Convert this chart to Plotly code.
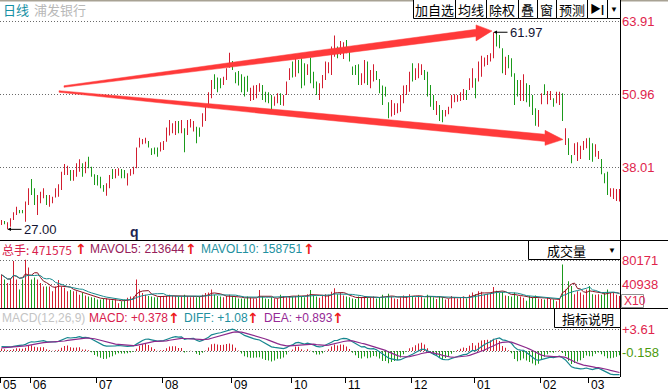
import plotly.graph_objects as go

W, H = 668, 392

# ---------------- data ----------------
high = [28.66, 28.48, 28.25, 28.96, 30.02, 31.03, 30.44, 30.44, 31.92, 34.28,
        35.94, 34.28, 33.10, 33.69, 34.28, 33.10, 33.10, 32.80, 34.28, 34.99,
        37.24, 38.60, 38.30, 37.53, 37.53, 38.72, 39.43, 38.72, 39.01, 39.90,
        38.12, 36.77, 36.65, 36.35, 34.87, 35.17, 36.65, 37.71, 37.71, 37.83,
        37.71, 37.53, 36.94, 37.71, 38.12, 41.50, 43.27, 43.04, 43.27, 42.68,
        41.38, 41.50, 41.50, 42.44, 42.68, 45.05, 46.41, 45.81, 46.23, 46.23,
        46.41, 44.93, 46.41, 46.58, 46.23, 45.22, 45.05, 47.59, 49.07, 51.31,
        53.50, 54.51, 53.92, 53.80, 54.09, 55.57, 58.35, 56.87, 54.86, 55.10,
        54.51, 54.09, 54.27, 52.14, 52.50, 52.62, 52.91, 52.62, 51.43, 51.31,
        50.84, 50.55, 51.14, 51.14, 50.84, 53.21, 55.57, 56.76, 57.35, 57.05,
        57.35, 56.46, 56.28, 57.47, 54.98, 53.21, 52.91, 54.39, 56.76, 56.64,
        59.42, 61.37, 59.42, 60.42, 60.19, 60.60, 59.12, 55.87, 56.16, 56.28,
        54.69, 57.05, 56.76, 55.28, 56.28, 55.10, 53.68, 52.50, 52.32, 49.54,
        49.95, 49.36, 49.36, 50.84, 52.50, 52.62, 54.98, 56.46, 55.57, 56.46,
        56.28, 55.28, 54.98, 52.62, 50.84, 49.78, 49.07, 48.18, 48.18, 48.77,
        50.84, 50.96, 50.84, 51.31, 51.91, 51.73, 53.80, 55.57, 53.80, 56.76,
        57.82, 57.47, 57.94, 58.23, 61.97, 61.78, 61.49, 59.12, 57.64, 57.94,
        57.35, 54.69, 53.50, 53.50, 54.51, 52.91, 52.62, 50.84, 48.48, 48.18,
        51.14, 52.73, 51.55, 51.55, 50.25, 51.43, 51.43, 51.14, 44.93, 43.15,
        40.20, 42.27, 42.44, 41.85, 42.68, 43.15, 43.27, 42.27, 42.09, 40.91,
        39.49, 36.94, 37.24, 34.28, 34.28, 34.16, 34.16]

low = [27.78, 27.89, 27.00, 27.48, 28.66, 29.55, 29.85, 29.85, 28.37, 31.33,
       33.10, 31.33, 29.55, 31.62, 32.51, 31.33, 31.03, 31.62, 32.63, 32.80,
       33.99, 36.65, 36.65, 35.64, 35.64, 36.35, 37.24, 36.35, 36.94, 37.83,
       36.35, 34.87, 34.76, 34.28, 33.69, 32.98, 34.28, 35.94, 36.06, 36.53,
       36.06, 36.06, 34.76, 36.53, 36.77, 37.83, 41.50, 42.09, 42.21, 41.50,
       40.20, 40.31, 39.90, 40.79, 41.08, 42.56, 43.63, 44.04, 43.75, 44.04,
       44.04, 40.67, 43.75, 45.05, 44.34, 42.27, 43.45, 45.22, 46.23, 48.59,
       50.25, 51.91, 51.31, 52.02, 52.62, 53.50, 55.69, 55.28, 52.91, 52.50,
       51.31, 50.55, 51.43, 49.78, 49.95, 50.25, 51.43, 49.95, 49.54, 49.36,
       48.00, 48.95, 49.36, 49.07, 48.95, 50.84, 53.50, 53.92, 54.09, 54.69,
       52.02, 52.50, 54.39, 52.91, 52.02, 50.84, 49.95, 52.02, 53.50, 54.69,
       54.39, 57.64, 57.35, 57.94, 57.23, 58.23, 56.76, 54.39, 54.39, 52.62,
       52.62, 52.91, 52.62, 52.02, 53.21, 53.50, 51.14, 49.07, 50.55, 46.70,
       47.00, 47.29, 47.59, 47.88, 49.36, 50.84, 51.43, 53.21, 53.50, 53.80,
       54.39, 53.50, 50.55, 48.77, 48.18, 47.29, 46.23, 45.99, 47.00, 47.41,
       48.48, 49.54, 49.66, 49.78, 49.95, 49.95, 51.73, 52.14, 50.25, 53.21,
       54.09, 55.87, 56.16, 56.76, 57.35, 59.42, 59.12, 54.69, 54.39, 55.57,
       54.09, 49.07, 50.55, 49.78, 49.78, 49.54, 48.77, 47.29, 45.40, 45.22,
       49.19, 50.84, 49.19, 49.95, 48.77, 49.36, 49.07, 46.23, 41.97, 40.20,
       38.72, 40.20, 39.13, 39.49, 41.08, 41.38, 39.31, 39.01, 39.90, 39.49,
       36.77, 35.17, 33.10, 32.80, 32.39, 32.04, 31.92]

close = [28.5, 28.0, 28.1, 28.8, 29.8, 30.9, 29.95, 30.0, 31.7, 34.0,
         33.4, 31.6, 32.8, 33.5, 34.1, 31.6, 32.9, 32.6, 34.1, 34.8,
         37.0, 38.4, 38.1, 35.9, 37.3, 38.5, 39.2, 36.6, 38.8, 38.1,
         36.6, 35.1, 35.0, 34.6, 33.9, 34.9, 36.4, 36.2, 37.5, 37.6,
         36.3, 36.3, 36.7, 37.5, 37.9, 41.3, 43.0, 42.9, 43.1, 41.7,
         40.4, 40.5, 40.1, 42.2, 42.5, 44.8, 46.2, 45.6, 46.0, 44.3,
         46.2, 41.0, 46.2, 46.4, 46.0, 42.6, 43.7, 47.4, 48.8, 51.1,
         53.3, 52.2, 51.6, 52.3, 53.9, 55.3, 56.5, 55.5, 53.1, 52.8,
         51.6, 50.9, 51.7, 51.9, 52.3, 52.4, 52.7, 50.2, 49.8, 49.6,
         48.3, 50.3, 50.9, 49.4, 50.6, 53.0, 55.3, 54.2, 57.1, 55.0,
         52.4, 52.8, 56.0, 53.2, 52.3, 51.1, 52.7, 54.2, 56.5, 56.4,
         59.2, 60.0, 57.6, 60.2, 59.9, 58.5, 57.0, 54.6, 54.6, 52.9,
         54.5, 56.8, 52.9, 55.0, 56.0, 53.7, 51.4, 49.3, 50.8, 47.0,
         49.7, 49.1, 49.1, 50.6, 52.3, 52.4, 54.7, 53.5, 55.3, 56.2,
         56.0, 53.7, 50.8, 49.1, 48.5, 49.5, 46.5, 46.3, 48.0, 48.6,
         50.6, 50.8, 50.7, 51.1, 51.7, 50.2, 53.6, 55.3, 50.6, 56.5,
         57.6, 57.3, 57.7, 58.0, 61.0, 59.7, 59.4, 55.0, 57.4, 55.8,
         54.4, 49.4, 50.8, 53.3, 54.3, 49.8, 49.1, 47.6, 45.7, 48.0,
         50.9, 51.1, 51.3, 51.4, 49.0, 51.2, 51.2, 46.5, 44.7, 40.5,
         39.0, 42.0, 42.2, 41.6, 42.5, 42.9, 39.6, 39.3, 41.9, 40.7,
         37.0, 35.4, 33.4, 34.1, 34.0, 33.9, 33.9]

# r = up (red), g = down (green)
updown = ("rgrrrrggrr" "ggrrrgrrrr" "rrrgrrrgrg" "gggggrrgrr" "ggrrrrrrrg"
          "gggrrrrrrg" "rgrrrggrrr" "rgggrrrggg" "gggrrrrggg" "grrgrrrgrg"
          "ggrgggrrrr" "rrgrrggggg" "rrgrrggggg" "rrrrrrrgrr" "rggggrggrr"
          "rrrrrgrrgr" "rrrrrgggrg" "gggrrggggr" "rgrrgrrgrg" "grrrrrggrr"
          "gggrrrr")

vol = [57000, 49000, 43000, 50000, 80000, 49000, 32000, 49000, 82000, 69000,
       49000, 52000, 49000, 43000, 37000, 37000, 37000, 29000, 37000, 48000,
       37000, 35000, 29000, 31000, 29000, 29000, 23000, 26000, 22000, 20000,
       19000, 18000, 15000, 15000, 17000, 17000, 15000, 14000, 15000, 9000,
       12000, 15000, 18000, 20000, 20000, 49000, 32000, 26000, 23000, 21000,
       20000, 19000, 19000, 21000, 21000, 21000, 23000, 21000, 21000, 20000,
       20000, 23000, 21000, 19000, 20000, 19000, 20000, 23000, 26000, 27000,
       32000, 23000, 21000, 20000, 19000, 21000, 23000, 20000, 19000, 17000,
       17000, 17000, 20000, 18000, 17000, 17000, 31000, 20000, 17000, 16000,
       19000, 17000, 17000, 23000, 21000, 19000, 21000, 20000, 21000, 23000,
       20000, 19000, 24000, 31000, 22000, 20000, 18000, 21000, 24000, 23000,
       28000, 34000, 24000, 26000, 22000, 20000, 19000, 17000, 16000, 20000,
       18000, 21000, 19000, 18000, 20000, 17000, 19000, 23000, 18000, 25000,
       20000, 17000, 16000, 19000, 22000, 20000, 24000, 21000, 19000, 22000,
       20000, 17000, 23000, 21000, 19000, 16000, 20000, 19000, 15000, 16000,
       21000, 18000, 17000, 19000, 20000, 17000, 23000, 27000, 24000, 29000,
       28000, 23000, 25000, 27000, 36000, 30000, 26000, 28000, 22000, 21000,
       20000, 27000, 21000, 20000, 18000, 13000, 21000, 19000, 22000, 17000,
       16000, 15000, 18000, 16000, 15000, 12000, 16000, 74000, 32000, 46000,
       38000, 24000, 29000, 27000, 23000, 32000, 38000, 24000, 23000, 24000,
       23000, 27000, 32000, 26000, 27000, 23000, 21000]

month_labels = ["05", "06", "07", "08", "09", "10", "11", "12", "01", "02", "03"]
month_start = [-0.5, 9.5, 31.5, 53.5, 76.5, 96.5, 114.5, 136.5, 157.5, 179.5, 195.5]

price_ticks = [63.91, 50.96, 38.01]
vol_ticks = [80171, 40938]
macd_ticks = [3.61, -0.158]

# MACD state at the first bar
ema12_start, ema26_start, dea_start = 27.7, 27.0, 0.45

# ---------------- derived ----------------
n = len(high)
idx = list(range(n))
RED, GREEN = "#d21e30", "#1b9a1b"
bar_col = [RED if c == "r" else GREEN for c in updown]


def sma(vals, k):
    out = []
    for i in range(len(vals)):
        w = vals[max(0, i - k + 1): i + 1]
        out.append(sum(w) / len(w))
    return out


ma5 = sma(vol, 5)
ma10 = sma(vol, 10)

e12, e26, dea = ema12_start, ema26_start, dea_start
diff_l, dea_l, macd_l = [], [], []
for c in close:
    e12 += (c - e12) * 2 / 13
    e26 += (c - e26) * 2 / 27
    d = e12 - e26
    dea += (d - dea) * 2 / 10
    diff_l.append(d)
    dea_l.append(dea)
    macd_l.append(2 * (d - dea))


def fx(px):
    return px / W


def fy(py):
    return 1 - py / H


XR = [-0.5, -0.5 + 620 / 3]
FONT = "Liberation Sans, Arial, Noto Sans CJK SC, sans-serif"
CJK = "Noto Sans CJK SC, Liberation Sans, sans-serif"
CRIMSON = "#e0244c"

fig = go.Figure()

# price bars
fig.add_trace(go.Bar(x=idx, y=[h - l for h, l in zip(high, low)], base=low,
                     width=1 / 3, marker=dict(color=bar_col, line=dict(width=0)),
                     xaxis="x", yaxis="y", hoverinfo="skip"))
# volume
fig.add_trace(go.Bar(x=idx, y=vol, width=1 / 3,
                     marker=dict(color=bar_col, line=dict(width=0)),
                     xaxis="x2", yaxis="y2", hoverinfo="skip"))
fig.add_trace(go.Scatter(x=idx, y=ma5, mode="lines", line=dict(color="#8c1020", width=1),
                         xaxis="x2", yaxis="y2", hoverinfo="skip"))
fig.add_trace(go.Scatter(x=idx, y=ma10, mode="lines", line=dict(color="#16898c", width=1),
                         xaxis="x2", yaxis="y2", hoverinfo="skip"))
# MACD
fig.add_trace(go.Bar(x=idx, y=macd_l, width=1 / 3,
                     marker=dict(color=[RED if v >= 0 else GREEN for v in macd_l], line=dict(width=0)),
                     xaxis="x3", yaxis="y3", hoverinfo="skip"))
fig.add_trace(go.Scatter(x=idx, y=diff_l, mode="lines", line=dict(color="#17868f", width=1.2),
                         xaxis="x3", yaxis="y3", hoverinfo="skip"))
fig.add_trace(go.Scatter(x=idx, y=dea_l, mode="lines", line=dict(color="#8c2a8c", width=1.2),
                         xaxis="x3", yaxis="y3", hoverinfo="skip"))

xdom = [0, 620 / W]
common_x = dict(range=XR, domain=xdom, showgrid=False, zeroline=False, showticklabels=False,
                fixedrange=True)
fig.update_layout(
    width=W, height=H, margin=dict(l=0, r=0, t=0, b=0),
    paper_bgcolor="white", plot_bgcolor="white", showlegend=False,
    barmode="overlay", font=dict(family=FONT, size=12),
    xaxis=dict(anchor="y", **common_x),
    xaxis2=dict(anchor="y2", **common_x),
    xaxis3=dict(anchor="y3", ticks="outside", ticklen=5, tickwidth=1, tickcolor="black",
                tickvals=month_start, showline=True, linecolor="black", linewidth=1, **common_x),
    yaxis=dict(domain=[fy(240), fy(0)], range=[25.11, 67.69], side="right", anchor="x",
               tickvals=price_ticks, ticktext=[f"{v:.2f}" for v in price_ticks],
               tickfont=dict(color=CRIMSON, size=13), ticks="", ticklabelstandoff=1,
               showgrid=True, gridcolor="#6a6a6a", griddash="1px,2px", gridwidth=1, zeroline=False,
               fixedrange=True),
    yaxis2=dict(domain=[fy(308.5), fy(240)], range=[0, 115350], side="right", anchor="x2",
                tickvals=vol_ticks, ticktext=[str(v) for v in vol_ticks],
                tickfont=dict(color=CRIMSON, size=13), ticks="", ticklabelstandoff=1,
                showgrid=True, gridcolor="#6a6a6a", griddash="1px,2px", gridwidth=1, zeroline=False,
                fixedrange=True),
    yaxis3=dict(domain=[fy(377), fy(308.5)], range=[-4.32, 7.06], side="right", anchor="x3",
                tickvals=macd_ticks,
                ticktext=[f'<span style="color:{CRIMSON}">+3.61</span>',
                          '<span style="color:#4c9a0c">-0.158</span>'],
                tickfont=dict(size=13), ticks="", ticklabelstandoff=1,
                showgrid=True, gridcolor="#6a6a6a", griddash="1px,2px", gridwidth=1, zeroline=False,
                fixedrange=True),
)

shapes = []


def hline(py, x0=0, x1=W, color="black", width=1):
    shapes.append(dict(type="line", xref="paper", yref="paper", x0=fx(x0), x1=fx(x1),
                       y0=fy(py), y1=fy(py), line=dict(color=color, width=width)))


def rect(x0, y0, x1, y1, color="black", fill="white"):
    shapes.append(dict(type="rect", xref="paper", yref="paper", x0=fx(x0), x1=fx(x1),
                       y0=fy(y1), y1=fy(y0), line=dict(color=color, width=1), fillcolor=fill))


hline(0.5, color="#a8a294", width=2)
hline(240.5)
hline(308.5)
shapes.append(dict(type="line", xref="paper", yref="paper", x0=fx(620.5), x1=fx(620.5),
                   y0=fy(377), y1=1, line=dict(color="black", width=1)))

# hand-drawn red arrows (chart drawing objects, in bar-index / price coordinates)
ARROW_UP = [(20.83, 52.48), (101.17, 58.43), (158.17, 62.49), (158.17, 63.27), (163.5, 62.21),
            (158.17, 60.43), (158.17, 61.21), (101.17, 57.37), (20.83, 52.20)]
ARROW_DN = [(19.17, 51.60), (101.17, 47.82), (181.17, 43.87), (181.17, 44.56), (187.17, 42.93),
            (181.17, 41.90), (181.17, 42.59), (101.17, 46.76), (19.17, 51.32)]
for poly in (ARROW_UP, ARROW_DN):
    path = "M " + " L ".join(f"{a},{b}" for a, b in poly) + " Z"
    shapes.append(dict(type="path", xref="x", yref="y", path=path,
                       fillcolor="#ff3a3a", line=dict(color="#ff3a3a", width=0.5), layer="above"))

# buttons
btns = [("加自选", 413, 455), ("均线", 455, 486), ("除权", 486, 518), ("叠", 518, 537),
        ("窗", 537, 556), ("预测", 556, 587), ("▶|", 587, 607), ("▼", 607, 620)]
for _, a, b in btns:
    rect(a + 0.5, -1, b + 0.5, 18.5)
rect(528.5, 240.5, 620.5, 259.5)
rect(554.5, 308.5, 620.5, 327.5)
rect(621.5, 294.5, 643.5, 307.5, color="#909090")

ann = []


def text(px, py, s, color="black", size=12, anchor="left", family=FONT, bold=False):
    if bold:
        s = f"<b>{s}</b>"
    ann.append(dict(xref="paper", yref="paper", x=fx(px), y=fy(py), text=s, showarrow=False,
                    xanchor=anchor, yanchor="middle", font=dict(color=color, size=size, family=family)))


text(1, 10, "日线", color="#1590a4", size=13, family=CJK)
text(32, 10, "浦发银行", color="#b8b8b8", size=13, family=CJK)
for s, a, b in btns:
    if s == "▶|":
        text((a + b) / 2, 9, "▶|", size=11, anchor="center", bold=True)
    elif s == "▼":
        text((a + b) / 2, 9, "▼", size=8, anchor="center")
    else:
        text((a + b) / 2, 9, s, size=13, anchor="center", family=CJK)
text(566, 250, "成交量", size=13, anchor="center", family=CJK)
text(612, 250, "▼", size=8, anchor="center")
text(588, 318, "指标说明", size=13, anchor="center", family=CJK)
text(622, 301, "X10", color=CRIMSON, size=12)

UPARROW = "#ee1a1a"
ARW = "DejaVu Sans, sans-serif"
text(0, 249, "总手: 471575", color="#d8204c", family=CJK)
text(73, 249, "↑", color=UPARROW, bold=True, size=14, family=ARW)
text(88, 249, "MAVOL5: 213644", color="#96205a")
text(183, 249, "↑", color=UPARROW, bold=True, size=14, family=ARW)
text(199, 249, "MAVOL10: 158751", color="#2290a0")
text(301, 249, "↑", color=UPARROW, bold=True, size=14, family=ARW)

text(0, 318, "MACD(12,26,9)", color="#c4c4c4")
text(87, 318, "MACD: +0.378", color="#d8204c")
text(166, 318, "↑", color=UPARROW, bold=True, size=14, family=ARW)
text(182, 318, "DIFF: +1.08", color="#2290a0")
text(245, 318, "↑", color=UPARROW, bold=True, size=14, family=ARW)
text(262, 318, "DEA: +0.893", color="#962a96")
text(330, 318, "↑", color=UPARROW, bold=True, size=14, family=ARW)

text(128, 232, "q", color="#1c2452", size=14, bold=True)

for lab, pos in zip(month_labels, month_start):
    ann.append(dict(xref="x3", yref="paper", x=pos, y=fy(385), text=lab, showarrow=False,
                    xanchor="left", yanchor="middle", xshift=1,
                    font=dict(color="black", size=12, family=FONT)))

# high / low markers
i_lo = low.index(min(low))
i_hi = high.index(max(high))
for i, v in ((i_lo, min(low)), (i_hi, max(high))):
    ann.append(dict(xref="x", yref="y", x=i, y=v, text=f"{v:.2f}", showarrow=True,
                    arrowhead=2, arrowsize=0.7, arrowwidth=1, arrowcolor="black",
                    ax=14, ay=0, xanchor="left", yanchor="middle",
                    font=dict(color="#141432", size=13, family=FONT)))

fig.update_layout(shapes=shapes, annotations=ann)
fig.write_html("out.html", config={"displayModeBar": False, "staticPlot": True},
               post_script="document.body.style.margin='0';document.body.style.overflow='hidden';")
